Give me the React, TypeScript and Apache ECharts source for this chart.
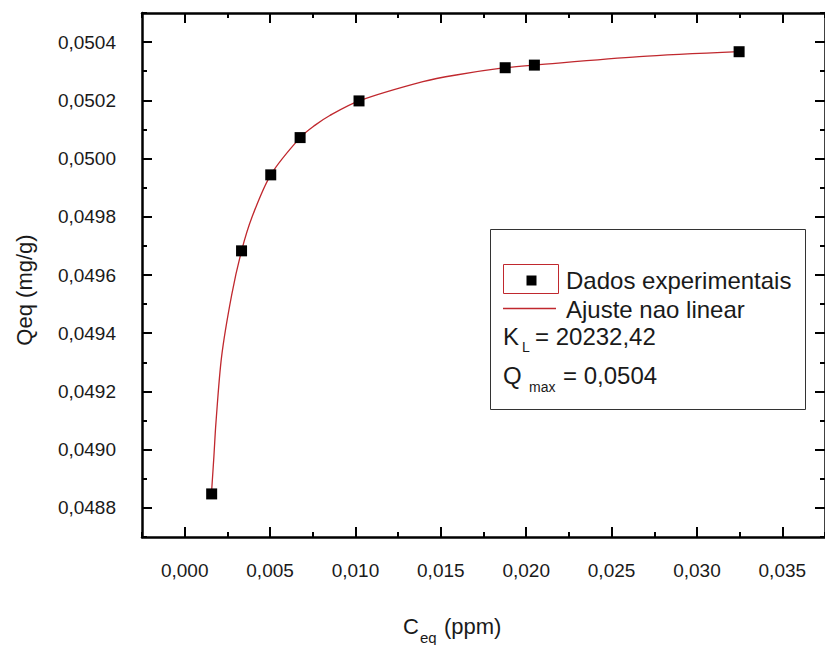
import React, { useEffect, useRef } from "react";
import * as echarts from "echarts";

// Experimental data
const ceq = [0.00158, 0.00333, 0.00504, 0.00676, 0.01021, 0.01877, 0.02048, 0.03247];
const qeqValues = [0.048848, 0.049683, 0.049944, 0.050072, 0.050198, 0.050312, 0.050321, 0.050367];

// Non-linear fit curve
const fitC = [0.00158, 0.00171, 0.00183, 0.00216, 0.00275, 0.00333, 0.00395, 0.00504, 0.00676, 0.00762, 0.0085, 0.01021, 0.01395, 0.0159, 0.01877, 0.02048, 0.02662, 0.03247];
const fitQ = [0.04886, 0.048976, 0.049092, 0.049319, 0.049531, 0.049683, 0.0498, 0.049944, 0.050072, 0.050114, 0.050148, 0.050198, 0.050264, 0.050287, 0.050312, 0.050321, 0.05035, 0.050367];

// Ticks
const xMajorTicks = [0, 0.005, 0.01, 0.015, 0.02, 0.025, 0.03, 0.035];
const yMajorTicks = [0.0488, 0.049, 0.0492, 0.0494, 0.0496, 0.0498, 0.05, 0.0502, 0.0504];

const seriesNames = ["Dados experimentais", "Ajuste nao linear"];
const klText = "= 20232,42";
const qmaxText = "= 0,0504";

const FONT = "'Liberation Sans', Arial, sans-serif";
const TXT = "#1a1a1a";
const RED = "#c0282e";

export default function App() {
  const ref = useRef<HTMLDivElement>(null);
  useEffect(() => {
    if (!ref.current) return;
    const chart = echarts.init(ref.current, undefined, { renderer: "svg" });
    const X_MIN = -0.0025, X_MAX = 0.0375, X_INT = 0.0025;
    const Y_MIN = 0.0487, Y_MAX = 0.0505, Y_INT = 0.0001;
    const axLine = { show: true, onZero: false, lineStyle: { color: "#000", width: 2.5 } };
    const noLine = { show: false, onZero: false };
    const majorTick = (vals: number[]) => ({ show: true, inside: true, length: 10, customValues: vals, lineStyle: { color: "#000", width: 2 } });
    const minorTick = { show: true, inside: true, length: 5, lineStyle: { color: "#000", width: 2 } };
    const xBase = { type: "value", min: X_MIN, max: X_MAX, interval: X_INT, splitLine: { show: false } };
    const yBase = { type: "value", min: Y_MIN, max: Y_MAX, interval: Y_INT, splitLine: { show: false } };
    const option: any = {
      animation: false,
      backgroundColor: "#fff",
      grid: { left: 142, top: 13, width: 684, height: 524, containLabel: false },
      xAxis: [
        {
          ...xBase, position: "bottom", axisLine: axLine, axisTick: majorTick(xMajorTicks),
          axisLabel: {
            show: true, customValues: xMajorTicks, margin: 24, fontSize: 19, fontFamily: FONT, color: TXT,
            formatter: (v: number) => v.toFixed(3).replace(".", ","),
          },
        },
        { ...xBase, position: "bottom", axisLine: noLine, axisTick: minorTick, axisLabel: { show: false } },
        { ...xBase, position: "top", axisLine: axLine, axisTick: majorTick(xMajorTicks), axisLabel: { show: false } },
        { ...xBase, position: "top", axisLine: noLine, axisTick: minorTick, axisLabel: { show: false } },
      ],
      yAxis: [
        {
          ...yBase, position: "left", axisLine: axLine, axisTick: majorTick(yMajorTicks),
          axisLabel: {
            show: true, customValues: yMajorTicks, margin: 26, fontSize: 19, fontFamily: FONT, color: TXT,
            formatter: (v: number) => v.toFixed(4).replace(".", ","),
          },
        },
        { ...yBase, position: "left", axisLine: noLine, axisTick: minorTick, axisLabel: { show: false } },
        { ...yBase, position: "right", axisLine: axLine, axisTick: majorTick(yMajorTicks), axisLabel: { show: false } },
        { ...yBase, position: "right", axisLine: noLine, axisTick: minorTick, axisLabel: { show: false } },
      ],
      series: [
        {
          name: seriesNames[1], type: "line", xAxisIndex: 0, yAxisIndex: 0,
          data: fitC.map((c, i) => [c, fitQ[i]]),
          smooth: 0.3, showSymbol: false, symbol: "none",
          lineStyle: { color: RED, width: 1.3 }, z: 2,
        },
        {
          name: seriesNames[0], type: "scatter", xAxisIndex: 0, yAxisIndex: 0,
          data: ceq.map((c, i) => [c, qeqValues[i]]),
          symbol: "rect", symbolSize: 11, itemStyle: { color: "#000", opacity: 1 }, z: 3,
        },
      ],
      graphic: [
        // axis titles
        { type: "text", x: 24, y: 290, rotation: Math.PI / 2, style: { text: "Qeq (mg/g)", fontSize: 22, fontFamily: FONT, fill: TXT, align: "center", verticalAlign: "middle" } },
        { type: "text", x: 403, y: 626, style: { text: "C", fontSize: 22, fontFamily: FONT, fill: TXT, align: "left", verticalAlign: "middle" } },
        { type: "text", x: 420, y: 637, style: { text: "eq", fontSize: 15, fontFamily: FONT, fill: TXT, align: "left", verticalAlign: "middle" } },
        { type: "text", x: 444, y: 626, style: { text: "(ppm)", fontSize: 22, fontFamily: FONT, fill: TXT, align: "left", verticalAlign: "middle" } },
        // legend box
        { type: "rect", z: 10, shape: { x: 490.5, y: 229.5, width: 315, height: 180 }, style: { fill: "#fff", stroke: "#333", lineWidth: 1 } },
        { type: "rect", z: 11, shape: { x: 503.5, y: 264.5, width: 55, height: 29 }, style: { fill: "#fff", stroke: RED, lineWidth: 1 } },
        { type: "rect", z: 12, shape: { x: 526.5, y: 275.5, width: 10, height: 10 }, style: { fill: "#000" } },
        { type: "text", z: 12, x: 566, y: 280, style: { text: seriesNames[0], fontSize: 24, fontFamily: FONT, fill: TXT, align: "left", verticalAlign: "middle" } },
        { type: "line", z: 12, shape: { x1: 503, y1: 308.5, x2: 556, y2: 308.5 }, style: { stroke: RED, lineWidth: 1.3 } },
        { type: "text", z: 12, x: 566, y: 309, style: { text: seriesNames[1], fontSize: 24, fontFamily: FONT, fill: TXT, align: "left", verticalAlign: "middle" } },
        { type: "text", z: 12, x: 503, y: 336, style: { text: "K", fontSize: 24, fontFamily: FONT, fill: TXT, align: "left", verticalAlign: "middle" } },
        { type: "text", z: 12, x: 522, y: 347, style: { text: "L", fontSize: 14, fontFamily: FONT, fill: TXT, align: "left", verticalAlign: "middle" } },
        { type: "text", z: 12, x: 535, y: 336, style: { text: klText, fontSize: 24, fontFamily: FONT, fill: TXT, align: "left", verticalAlign: "middle" } },
        { type: "text", z: 12, x: 503, y: 375, style: { text: "Q", fontSize: 24, fontFamily: FONT, fill: TXT, align: "left", verticalAlign: "middle" } },
        { type: "text", z: 12, x: 529, y: 387, style: { text: "max", fontSize: 14, fontFamily: FONT, fill: TXT, align: "left", verticalAlign: "middle" } },
        { type: "text", z: 12, x: 563, y: 375, style: { text: qmaxText, fontSize: 24, fontFamily: FONT, fill: TXT, align: "left", verticalAlign: "middle" } },
      ],
    };
    chart.setOption(option);
    return () => chart.dispose();
  }, []);
  return <div ref={ref} style={{ position: "fixed", left: 0, top: 0, width: 825, height: 645, background: "#fff" }} />;
}
